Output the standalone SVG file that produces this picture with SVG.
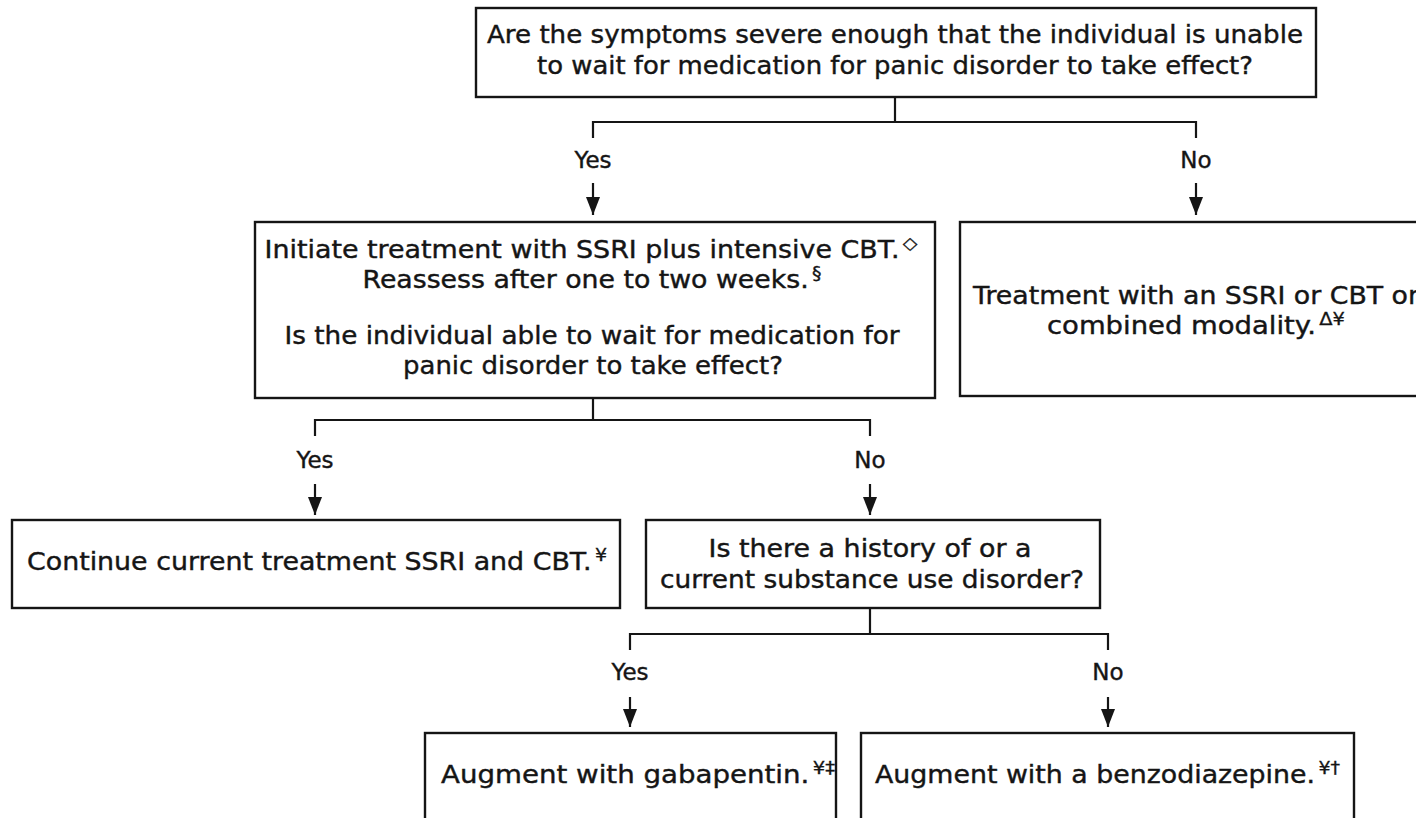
<svg xmlns="http://www.w3.org/2000/svg" width="1416" height="818" viewBox="0 0 1416 818">
  <style>
    .box { fill: #ffffff; stroke: #151515; stroke-width: 2.4; }
    .wire { fill: none; stroke: #151515; stroke-width: 2.2; }
    .t { font-family: "DejaVu Sans", Verdana, sans-serif; font-size: 24px; fill: #151515; stroke: #151515; stroke-width: 0.4; }
    .c { text-anchor: middle; }
    .lbl { font-family: "DejaVu Sans", Verdana, sans-serif; font-size: 23px; fill: #151515; stroke: #151515; stroke-width: 0.4; text-anchor: middle; }
    .sup { font-size: 17px; stroke-width: 0.3; }
  </style>
  <defs>
    <!-- arrowhead drawn along +x so it follows the line direction -->
    <marker id="arrow" viewBox="0 0 18 14" refX="18" refY="7" markerWidth="18" markerHeight="14" markerUnits="userSpaceOnUse" orient="auto">
      <path d="M0,0 L18,7 L0,14 Z" fill="#151515"/>
    </marker>
  </defs>
  <rect width="1416" height="818" fill="#ffffff"/>

  <!-- connectors -->
  <g id="connectors">
    <path class="wire" d="M895,97 V122 M593,138 V122 H1196 V138"/>
    <line class="wire" x1="593" y1="183" x2="593" y2="215" marker-end="url(#arrow)"/>
    <line class="wire" x1="1196" y1="183" x2="1196" y2="215" marker-end="url(#arrow)"/>
    <path class="wire" d="M593,398 V420 M315,436 V420 H870 V436"/>
    <line class="wire" x1="315" y1="484" x2="315" y2="515" marker-end="url(#arrow)"/>
    <line class="wire" x1="870" y1="484" x2="870" y2="515" marker-end="url(#arrow)"/>
    <path class="wire" d="M870,608 V634 M630,650 V634 H1108 V650"/>
    <line class="wire" x1="630" y1="697" x2="630" y2="727" marker-end="url(#arrow)"/>
    <line class="wire" x1="1108" y1="697" x2="1108" y2="727" marker-end="url(#arrow)"/>
    <text class="lbl" x="593" y="168">Yes</text>
    <text class="lbl" x="1196" y="168">No</text>
    <text class="lbl" x="315" y="468">Yes</text>
    <text class="lbl" x="870" y="468">No</text>
    <text class="lbl" x="630" y="680">Yes</text>
    <text class="lbl" x="1108" y="680">No</text>
  </g>

  <g id="severity-question">
    <rect class="box" x="476" y="8" width="840" height="89"/>
    <text class="t c" x="895" y="43" textLength="816" lengthAdjust="spacingAndGlyphs">Are the symptoms severe enough that the individual is unable</text>
    <text class="t c" x="895" y="74" textLength="716" lengthAdjust="spacingAndGlyphs">to wait for medication for panic disorder to take effect?</text>
  </g>

  <g id="initiate-ssri-cbt">
    <rect class="box" x="255" y="222" width="680" height="176"/>
    <text class="t c" x="591" y="258" textLength="653" lengthAdjust="spacingAndGlyphs">Initiate treatment with SSRI plus intensive CBT.<tspan class="sup" dx="3" dy="-9">◇</tspan></text>
    <text class="t c" x="592" y="288" textLength="459" lengthAdjust="spacingAndGlyphs">Reassess after one to two weeks.<tspan class="sup" dx="3" dy="-9">§</tspan></text>
    <text class="t c" x="592" y="344" textLength="615" lengthAdjust="spacingAndGlyphs">Is the individual able to wait for medication for</text>
    <text class="t c" x="593" y="374" textLength="380" lengthAdjust="spacingAndGlyphs">panic disorder to take effect?</text>
  </g>

  <g id="ssri-or-cbt">
    <rect class="box" x="960" y="222" width="472" height="174"/>
    <text class="t c" x="1196" y="304" textLength="446" lengthAdjust="spacingAndGlyphs">Treatment with an SSRI or CBT or</text>
    <text class="t c" x="1196" y="334" textLength="298" lengthAdjust="spacingAndGlyphs">combined modality.<tspan class="sup" dx="3" dy="-9">Δ¥</tspan></text>
  </g>

  <g id="continue-treatment">
    <rect class="box" x="12" y="520" width="608" height="88"/>
    <text class="t c" x="317" y="570" textLength="580" lengthAdjust="spacingAndGlyphs">Continue current treatment SSRI and CBT.<tspan class="sup" dx="3" dy="-9">¥</tspan></text>
  </g>

  <g id="substance-use-question">
    <rect class="box" x="646" y="520" width="454" height="88"/>
    <text class="t c" x="870" y="557" textLength="323" lengthAdjust="spacingAndGlyphs">Is there a history of or a</text>
    <text class="t c" x="872" y="588" textLength="424" lengthAdjust="spacingAndGlyphs">current substance use disorder?</text>
  </g>

  <g id="gabapentin">
    <rect class="box" x="425" y="733" width="411" height="110"/>
    <text class="t" x="441" y="783" textLength="394" lengthAdjust="spacingAndGlyphs">Augment with gabapentin.<tspan class="sup" dx="3" dy="-9">¥‡</tspan></text>
  </g>

  <g id="benzodiazepine">
    <rect class="box" x="861" y="733" width="493" height="110"/>
    <text class="t" x="875" y="783" textLength="465" lengthAdjust="spacingAndGlyphs">Augment with a benzodiazepine.<tspan class="sup" dx="3" dy="-9">¥†</tspan></text>
  </g>
</svg>
